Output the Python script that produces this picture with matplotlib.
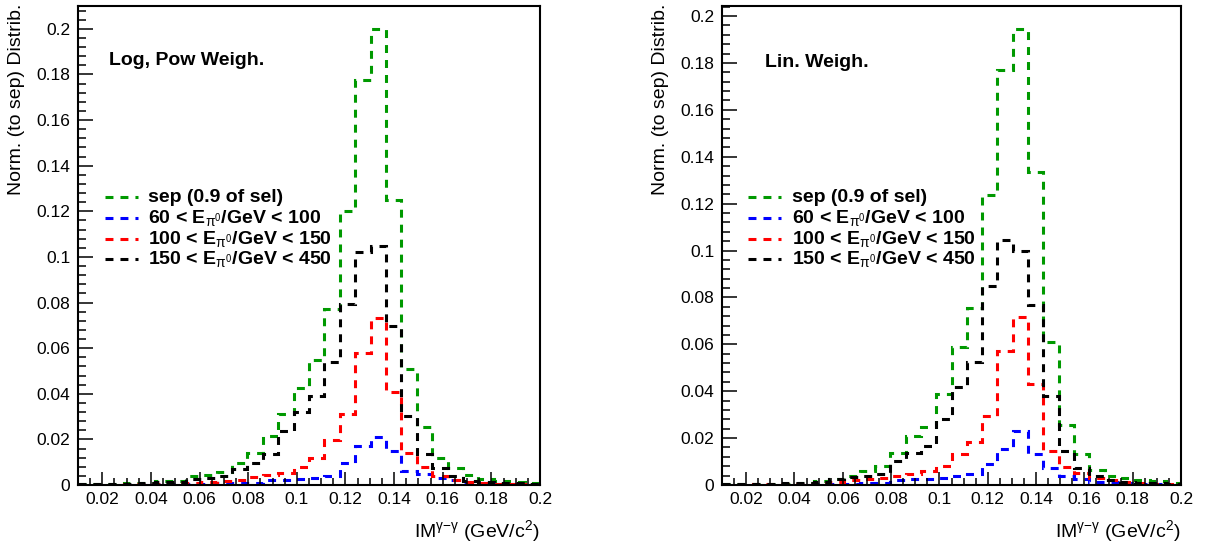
import numpy as np
import matplotlib
matplotlib.use('Agg')
import matplotlib.pyplot as plt
from matplotlib.ticker import MultipleLocator, FuncFormatter

plt.rcParams['font.family'] = ['Liberation Sans', 'DejaVu Sans']
plt.rcParams['mathtext.fontset'] = 'custom'
plt.rcParams['mathtext.rm'] = 'Liberation Sans'
plt.rcParams['mathtext.it'] = 'Liberation Sans:italic'
plt.rcParams['mathtext.bf'] = 'Liberation Sans:bold'

# binning of the invariant mass histograms
x_lo, x_hi, n_bins = 0.01, 0.2, 30

# left panel: Log, Pow weighting
sep_log = [0.0005, 0.0005, 0.0005, 0.0008, 0.001, 0.0018, 0.0018, 0.004, 0.0042, 0.0055,
           0.0095, 0.0142, 0.0215, 0.0311, 0.0425, 0.0549, 0.0772, 0.120, 0.1776, 0.1999,
           0.1248, 0.0508, 0.0255, 0.012, 0.0075, 0.0043, 0.0028, 0.0018, 0.0012, 0.0008]
e60_log = [0.0001, 0.0001, 0.0002, 0.0002, 0.0003, 0.0003, 0.0004, 0.0005, 0.0006, 0.0007,
           0.0008, 0.001, 0.002, 0.002, 0.0025, 0.0032, 0.004, 0.0098, 0.0171, 0.021,
           0.015, 0.0062, 0.005, 0.003, 0.002, 0.0012, 0.0008, 0.0005, 0.0003, 0.0002]
e100_log = [0.0001, 0.0001, 0.0002, 0.0003, 0.0004, 0.0006, 0.0008, 0.001, 0.0015, 0.0018,
            0.0022, 0.0034, 0.0045, 0.0052, 0.008, 0.0117, 0.0196, 0.031, 0.058, 0.0734,
            0.0406, 0.0142, 0.0079, 0.004, 0.002, 0.0012, 0.0008, 0.0005, 0.0003, 0.0002]
e150_log = [0.0003, 0.0003, 0.0003, 0.0005, 0.0008, 0.0012, 0.0015, 0.0025, 0.0032, 0.004,
            0.0069, 0.0097, 0.0138, 0.0237, 0.0318, 0.0391, 0.0538, 0.0794, 0.1021, 0.105,
            0.0699, 0.0303, 0.0135, 0.0076, 0.004, 0.0018, 0.0012, 0.001, 0.0008, 0.0005]

# right panel: Lin. weighting
sep_lin = [0.0003, 0.0003, 0.0003, 0.0003, 0.0005, 0.001, 0.0017, 0.0027, 0.0038, 0.006,
           0.0081, 0.0138, 0.0209, 0.0248, 0.039, 0.0587, 0.0755, 0.1238, 0.1769, 0.1943,
           0.1335, 0.0608, 0.0256, 0.0131, 0.0065, 0.004, 0.003, 0.002, 0.0015, 0.0008]
e60_lin = [0.0001, 0.0001, 0.0001, 0.0002, 0.0002, 0.0003, 0.0004, 0.0005, 0.0006, 0.0008,
           0.001, 0.002, 0.0024, 0.0025, 0.003, 0.004, 0.0046, 0.0088, 0.0153, 0.0231,
           0.0131, 0.0072, 0.0038, 0.0024, 0.0013, 0.0012, 0.0008, 0.0005, 0.0003, 0.0002]
e100_lin = [0.0002, 0.0002, 0.0003, 0.0003, 0.0004, 0.0006, 0.0008, 0.0014, 0.002, 0.0024,
            0.003, 0.0038, 0.0046, 0.006, 0.0081, 0.0131, 0.0185, 0.0295, 0.0573, 0.0715,
            0.043, 0.0145, 0.0077, 0.0053, 0.003, 0.002, 0.0012, 0.0008, 0.0005, 0.0003]
e150_lin = [0.0003, 0.0003, 0.0004, 0.0005, 0.0008, 0.001, 0.0013, 0.0024, 0.0034, 0.0038,
            0.0046, 0.0103, 0.0138, 0.0167, 0.0281, 0.0416, 0.0523, 0.085, 0.1046, 0.100,
            0.0769, 0.038, 0.0145, 0.0074, 0.0038, 0.002, 0.0013, 0.001, 0.0008, 0.0005]

labels = ['sep (0.9 of sel)',
          r'60 < E$_{\mathrm{\pi}^{0}}$/GeV < 100',
          r'100 < E$_{\mathrm{\pi}^{0}}$/GeV < 150',
          r'150 < E$_{\mathrm{\pi}^{0}}$/GeV < 450']
colors = ['#009900', '#0000ff', '#ff0000', '#000000']

panels = [
    dict(series=[sep_log, e60_log, e100_log, e150_log], title='Log, Pow Weigh.', ymax=0.21,
         pos=[78/1207, 60/545, 462/1207, 479/545], tpos=(0.067, 0.887), leg=(0.058, 0.130, 0.1515)),
    dict(series=[sep_lin, e60_lin, e100_lin, e150_lin], title='Lin. Weigh.', ymax=0.2043,
         pos=[722/1207, 60/545, 459/1207, 479/545], tpos=(0.094, 0.883), leg=(0.057, 0.1285, 0.1525)),
]

edges = np.linspace(x_lo, x_hi, n_bins + 1)
fmt = FuncFormatter(lambda v, p: '%g' % round(v, 6))
dash = (0, (2.6, 2.3))

fig = plt.figure(figsize=(12.07, 5.45), dpi=100)
for pn in panels:
    ax = fig.add_axes(pn['pos'])
    for vals, c in zip(pn['series'], colors):
        ax.stairs(vals, edges, color=c, lw=2.2, linestyle=dash, baseline=None)
    ax.set_xlim(x_lo, x_hi)
    ax.set_ylim(0, pn['ymax'])
    ax.xaxis.set_major_locator(MultipleLocator(0.02))
    ax.xaxis.set_minor_locator(MultipleLocator(0.005))
    ax.yaxis.set_major_locator(MultipleLocator(0.02))
    ax.yaxis.set_minor_locator(MultipleLocator(0.004))
    ax.xaxis.set_major_formatter(fmt)
    ax.yaxis.set_major_formatter(fmt)
    ax.tick_params(axis='both', which='both', direction='in', top=False, right=False,
                   labelsize=12.5, width=1.1)
    ax.tick_params(axis='x', which='major', length=9.4, pad=5)
    ax.tick_params(axis='x', which='minor', length=5)
    ax.tick_params(axis='y', which='major', length=10.8, pad=5.5)
    ax.tick_params(axis='y', which='minor', length=5.8)
    for s in ax.spines.values():
        s.set_linewidth(1.5)
    ax.set_ylabel('Norm. (to sep) Distrib.', fontsize=14, loc='top')
    ax.yaxis.set_label_coords(-0.115, 1.006)
    ax.set_xlabel(r'IM$^{\mathrm{\gamma}\mathrm{-}\mathrm{\gamma}}$ (GeV/c$^{2}$)', fontsize=14, loc='right')
    ax.xaxis.set_label_coords(1.0, -0.07)
    ax.text(pn['tpos'][0], pn['tpos'][1], pn['title'], transform=ax.transAxes,
            fontsize=14, fontweight='bold', va='center', ha='left')
    x0, x1, xt = pn['leg']
    for i, (lab, c) in enumerate(zip(labels, colors)):
        yy = 0.601 - i * 0.0432
        ax.plot([x0, x1], [yy, yy], color=c, lw=2.2, linestyle=dash, transform=ax.transAxes)
        ax.text(xt, yy, lab, transform=ax.transAxes, fontsize=14, fontweight='bold',
                va='center', ha='left')

fig.savefig('out.png', dpi=100)
